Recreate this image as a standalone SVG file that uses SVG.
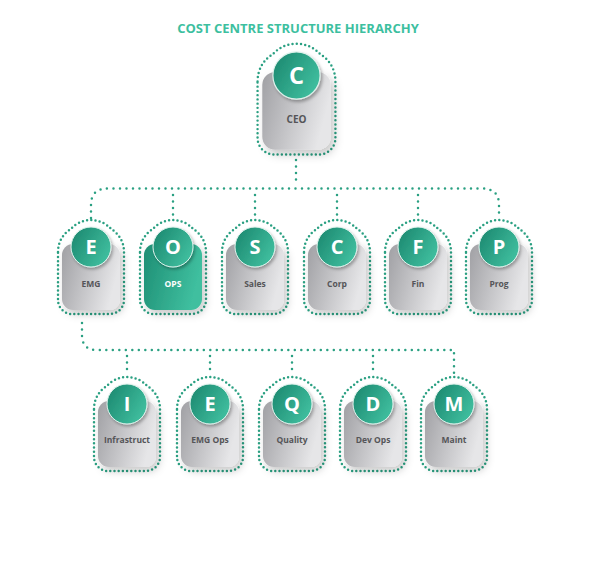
<svg xmlns="http://www.w3.org/2000/svg" xmlns:xlink="http://www.w3.org/1999/xlink" width="600" height="582" viewBox="0 0 600 582">
<style>
.title{font-family:"Open Sans","Liberation Sans",sans-serif;font-weight:700;font-size:13px;fill:#3dbf9f;text-anchor:middle}
.box{fill:url(#gray)}
.boxT{fill:url(#tealBox)}
.outline{fill:none;stroke:#2aa082;stroke-width:2.5;stroke-linecap:round;stroke-dasharray:0 4.2}
.conn{fill:none;stroke:#2aa082;stroke-width:2.5;stroke-linecap:round;stroke-dasharray:0 6.5}
.circ{fill:url(#teal);stroke:#dff2ec;stroke-width:1}
.letter{font-family:"Open Sans","Liberation Sans",sans-serif;font-weight:700;font-size:20px;fill:#ffffff;text-anchor:middle}
.lbl{font-family:"Open Sans","Liberation Sans",sans-serif;font-weight:700;font-size:8.5px;fill:#555558;text-anchor:middle}
.lblW{fill:#ffffff}
</style>
<defs>
<linearGradient id="gray" x1="0" y1="0" x2="1" y2="0.3">
<stop offset="0" stop-color="#a0a0a4"/>
<stop offset="1" stop-color="#e6e6e8"/>
</linearGradient>
<linearGradient id="tealBox" x1="0" y1="0" x2="1" y2="0.3">
<stop offset="0" stop-color="#1e8e74"/>
<stop offset="1" stop-color="#3fbf9f"/>
</linearGradient>
<linearGradient id="teal" x1="0" y1="0.2" x2="1" y2="0.8">
<stop offset="0" stop-color="#1d8a71"/>
<stop offset="1" stop-color="#42c2a2"/>
</linearGradient>
<filter id="sh" x="-40%" y="-40%" width="180%" height="180%">
<feDropShadow dx="3" dy="4" stdDeviation="4" flood-color="#000" flood-opacity="0.22"/>
</filter>
<filter id="csh" x="-40%" y="-40%" width="180%" height="180%">
<feDropShadow dx="1.5" dy="2" stdDeviation="1.5" flood-color="#000" flood-opacity="0.3"/>
</filter>
<path id="ol" d="M -33,5 C -33,-6 -27,-14 -20,-18.1 A 27 27 0 0 1 20,-18.1 C 27,-14 33,-6 33,5 L 33,53 A 14 14 0 0 1 19,67 L -19,67 A 14 14 0 0 1 -33,53 Z"/>
<rect id="bx" x="-29" y="-3" width="58" height="66" rx="11"/>
</defs>

<text class="title" x="298" y="33">COST CENTRE STRUCTURE HIERARCHY</text>

<g id="connectors">
<path class="conn" d="M 296,160 V 184"/>
<path class="conn" d="M 91,218 V 205 Q 91,188.5 108,188.5 H 482 Q 499,188.5 499,205 V 218"/>
<path class="conn" d="M 173,195 V 218 M 255,195 V 218 M 337,195 V 218 M 418,195 V 218"/>
<path class="conn" d="M 82,323 V 335 Q 82,350 97,350 H 454 V 373"/>
<path class="conn" d="M 127,356 V 373 M 210,356 V 373 M 292,356 V 373 M 373,356 V 373"/>
</g>

<g id="node-ceo" transform="translate(296.5,75.5) scale(1.18)">
<use xlink:href="#ol" class="outline" style="stroke-width:2.1;stroke-dasharray:0 3.6"/>
<use xlink:href="#bx" class="box" filter="url(#sh)"/>
<circle class="circ" r="20" filter="url(#csh)"/>
<text class="letter" y="7">C</text>
<text class="lbl" y="40">CEO</text>
</g>

<g id="node-emg" transform="translate(91,247)">
<use xlink:href="#ol" class="outline"/>
<use xlink:href="#bx" class="box" filter="url(#sh)"/>
<circle class="circ" r="20" filter="url(#csh)"/>
<text class="letter" y="7">E</text>
<text class="lbl" y="40">EMG</text>
</g>
<g id="node-ops" transform="translate(173,247)">
<use xlink:href="#ol" class="outline"/>
<use xlink:href="#bx" class="boxT" filter="url(#sh)"/>
<circle class="circ" r="20" filter="url(#csh)"/>
<text class="letter" y="7">O</text>
<text class="lbl lblW" y="40">OPS</text>
</g>
<g id="node-sales" transform="translate(255,247)">
<use xlink:href="#ol" class="outline"/>
<use xlink:href="#bx" class="box" filter="url(#sh)"/>
<circle class="circ" r="20" filter="url(#csh)"/>
<text class="letter" y="7">S</text>
<text class="lbl" y="40">Sales</text>
</g>
<g id="node-corp" transform="translate(337,247)">
<use xlink:href="#ol" class="outline"/>
<use xlink:href="#bx" class="box" filter="url(#sh)"/>
<circle class="circ" r="20" filter="url(#csh)"/>
<text class="letter" y="7">C</text>
<text class="lbl" y="40">Corp</text>
</g>
<g id="node-fin" transform="translate(418,247)">
<use xlink:href="#ol" class="outline"/>
<use xlink:href="#bx" class="box" filter="url(#sh)"/>
<circle class="circ" r="20" filter="url(#csh)"/>
<text class="letter" y="7">F</text>
<text class="lbl" y="40">Fin</text>
</g>
<g id="node-prog" transform="translate(499,247)">
<use xlink:href="#ol" class="outline"/>
<use xlink:href="#bx" class="box" filter="url(#sh)"/>
<circle class="circ" r="20" filter="url(#csh)"/>
<text class="letter" y="7">P</text>
<text class="lbl" y="40">Prog</text>
</g>

<g id="node-infrastruct" transform="translate(127,404)">
<use xlink:href="#ol" class="outline"/>
<use xlink:href="#bx" class="box" filter="url(#sh)"/>
<circle class="circ" r="20" filter="url(#csh)"/>
<text class="letter" y="7">I</text>
<text class="lbl" y="39">Infrastruct</text>
</g>
<g id="node-emgops" transform="translate(210,404)">
<use xlink:href="#ol" class="outline"/>
<use xlink:href="#bx" class="box" filter="url(#sh)"/>
<circle class="circ" r="20" filter="url(#csh)"/>
<text class="letter" y="7">E</text>
<text class="lbl" y="39">EMG Ops</text>
</g>
<g id="node-quality" transform="translate(292,404)">
<use xlink:href="#ol" class="outline"/>
<use xlink:href="#bx" class="box" filter="url(#sh)"/>
<circle class="circ" r="20" filter="url(#csh)"/>
<text class="letter" y="7">Q</text>
<text class="lbl" y="39">Quality</text>
</g>
<g id="node-devops" transform="translate(373,404)">
<use xlink:href="#ol" class="outline"/>
<use xlink:href="#bx" class="box" filter="url(#sh)"/>
<circle class="circ" r="20" filter="url(#csh)"/>
<text class="letter" y="7">D</text>
<text class="lbl" y="39">Dev Ops</text>
</g>
<g id="node-maint" transform="translate(454,404)">
<use xlink:href="#ol" class="outline"/>
<use xlink:href="#bx" class="box" filter="url(#sh)"/>
<circle class="circ" r="20" filter="url(#csh)"/>
<text class="letter" y="7">M</text>
<text class="lbl" y="39">Maint</text>
</g>
</svg>
